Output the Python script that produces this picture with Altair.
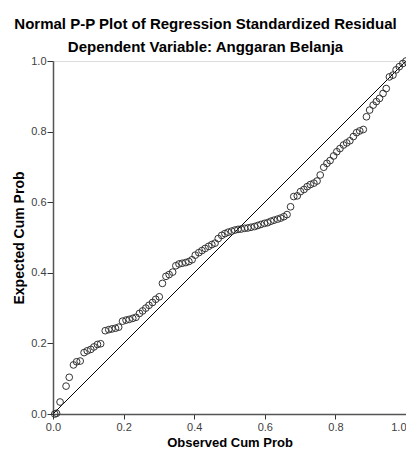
import altair as alt
import pandas as pd

observed = [0.005, 0.010, 0.020, 0.037, 0.046, 0.058, 0.067, 0.077, 0.088, 0.097,
            0.107, 0.116, 0.126, 0.135, 0.148, 0.158, 0.167, 0.177, 0.186, 0.197,
            0.207, 0.216, 0.226, 0.235, 0.245, 0.254, 0.263, 0.272, 0.282, 0.291,
            0.301, 0.310, 0.320, 0.329, 0.339, 0.348, 0.357, 0.366, 0.376, 0.385,
            0.394, 0.403, 0.413, 0.422, 0.431, 0.441, 0.450, 0.459, 0.468, 0.478,
            0.487, 0.496, 0.506, 0.515, 0.524, 0.533, 0.543, 0.552, 0.561, 0.571,
            0.580, 0.589, 0.599, 0.608, 0.617, 0.626, 0.636, 0.645, 0.654, 0.663,
            0.673, 0.682, 0.692, 0.701, 0.711, 0.720, 0.729, 0.739, 0.748, 0.757,
            0.767, 0.776, 0.785, 0.795, 0.804, 0.813, 0.823, 0.832, 0.841, 0.851,
            0.860, 0.869, 0.879, 0.888, 0.897, 0.907, 0.916, 0.925, 0.935, 0.944,
            0.953, 0.963, 0.972, 0.981, 0.991, 1.000]
expected = [0.000, 0.002, 0.034, 0.079, 0.104, 0.139, 0.148, 0.150, 0.174, 0.179,
            0.183, 0.190, 0.197, 0.199, 0.236, 0.239, 0.241, 0.243, 0.246, 0.263,
            0.266, 0.268, 0.271, 0.274, 0.285, 0.292, 0.300, 0.308, 0.316, 0.325,
            0.332, 0.370, 0.390, 0.395, 0.402, 0.420, 0.425, 0.427, 0.429, 0.432,
            0.437, 0.450, 0.457, 0.463, 0.469, 0.475, 0.480, 0.484, 0.497, 0.506,
            0.511, 0.515, 0.518, 0.521, 0.523, 0.524, 0.526, 0.527, 0.529, 0.531,
            0.534, 0.537, 0.540, 0.542, 0.546, 0.549, 0.552, 0.555, 0.559, 0.565,
            0.587, 0.616, 0.618, 0.630, 0.636, 0.644, 0.650, 0.654, 0.660, 0.677,
            0.699, 0.710, 0.718, 0.731, 0.743, 0.752, 0.762, 0.768, 0.774, 0.786,
            0.797, 0.802, 0.806, 0.842, 0.861, 0.875, 0.885, 0.894, 0.908, 0.922,
            0.955, 0.960, 0.975, 0.984, 0.993, 1.000]
diagonal = [0.0, 1.0]
ticks = [0.0, 0.2, 0.4, 0.6, 0.8, 1.0]

pts = pd.DataFrame({"obs": observed, "exp": expected})
diag = pd.DataFrame({"obs": diagonal, "exp": diagonal})

FONT = "Liberation Sans"
scale = alt.Scale(domain=[0, 1], nice=False, zero=False)

xax = alt.Axis(values=ticks, format=".1f", title="Observed Cum Prob", grid=False,
               tickSize=5, labelPadding=2, labelFontSize=11, labelColor="#404040",
               labelFont=FONT, titleFont=FONT, titleFontSize=13, titleFontWeight="bold",
               titleColor="#000", titleY=32, titleBaseline="alphabetic",
               domainColor="#555", domainWidth=1.5, tickColor="#333",
               labelFlush=False,
               labelAlign=alt.expr("datum.value >= 1 ? 'right' : 'center'"))
yax = alt.Axis(values=ticks, format=".1f", title="Expected Cum Prob", grid=False,
               tickSize=6, labelPadding=1, labelFontSize=11, labelColor="#404040",
               labelFont=FONT, titleFont=FONT, titleFontSize=14, titleFontWeight="bold",
               titleColor="#000", titleX=-30, titleY=176.5, titleAngle=270,
               titleBaseline="alphabetic", titleAlign="center",
               domainColor="#555", domainWidth=1.5, tickColor="#333",
               labelFlush=False)

line = alt.Chart(diag).mark_line(color="#000", strokeWidth=1, clip=True).encode(
    x=alt.X("obs:Q", scale=scale, axis=xax),
    y=alt.Y("exp:Q", scale=scale, axis=yax),
)
points = alt.Chart(pts).mark_point(shape="circle", filled=False, color="#333",
                                   size=45, strokeWidth=1, opacity=1).encode(
    x=alt.X("obs:Q", scale=scale),
    y=alt.Y("exp:Q", scale=scale),
)

chart = alt.layer(line, points).properties(
    width=353, height=353,
    autosize=alt.AutoSizeParams(type="none"),
    padding={"left": 45, "top": 53, "right": 0, "bottom": 34},
    title=alt.TitleParams(
        text="Normal P-P Plot of Regression Standardized Residual",
        subtitle="Dependent Variable: Anggaran Belanja",
        font=FONT, fontSize=15, fontWeight="bold", color="#000",
        subtitleFont=FONT, subtitleFontSize=15, subtitleFontWeight="bold",
        subtitleColor="#000", anchor="middle", dx=-24, offset=0, subtitlePadding=8,
    ),
).configure_view(
    fill="#F0F0F0", stroke="#444", strokeWidth=1
).configure(background="#FFFFFF")

chart.save("out.html", embed_options={"renderer": "svg", "actions": False})
